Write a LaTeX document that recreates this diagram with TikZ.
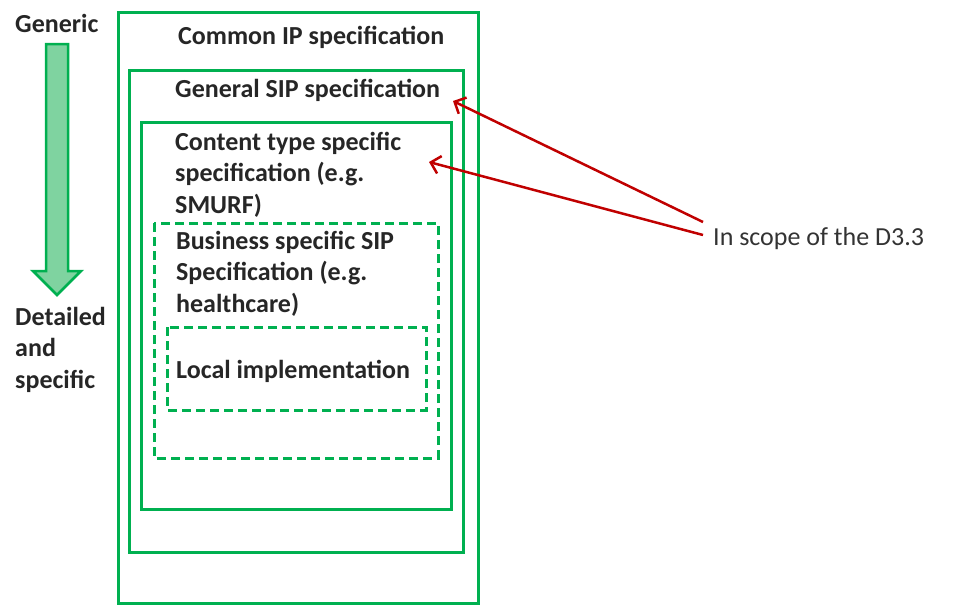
\documentclass[tikz,border=0pt]{standalone}
\usepackage{fontspec}
\setmainfont{Carlito}
\usetikzlibrary{arrows.meta}
\definecolor{grn}{HTML}{00B050}
\definecolor{lgrn}{HTML}{7FD3A0}
\definecolor{dred}{HTML}{C00000}
\tikzset{
  box/.style={draw=grn, line width=3pt},
  dbox/.style={draw=grn, line width=3pt, dash pattern=on 9pt off 5pt},
  lbl/.style={anchor=base west, inner sep=0pt, font=\fontsize{26}{31.5}\selectfont\bfseries, align=left, text=black!85},
  scopelbl/.style={anchor=base west, inner sep=0pt, font=\fontsize{26}{31.5}\selectfont, text=black!80},
  redarrow/.style={draw=dred, line width=2.5pt, -{Straight Barb[length=9pt,width=18pt,line width=2.5pt]}}
}
\begin{document}
\begin{tikzpicture}[x=1pt,y=-1pt]
\useasboundingbox (0,0) rectangle (975,606);
% boxes
\draw[box] (118,12) rectangle (478,603);
\draw[box] (129,70) rectangle (463,552);
\draw[box] (141,122) rectangle (451,509);
\draw[dbox] (154,223) rectangle (438,458);
\draw[dbox] (167,327) rectangle (426,410);
% labels (multi-line nodes anchored at the baseline of their last line)
\node[lbl] (common) at (178,44) {Common IP specification};
\node[lbl] (general) at (175,97) {General SIP specification};
\node[lbl] (content) at (175,213) {Content type specific\\specification (e.g.\\SMURF)};
\node[lbl] (business) at (176,312) {Business specific SIP\\Specification (e.g.\\healthcare)};
\node[lbl] (local) at (176,378) {Local implementation};
\node[lbl] (generic) at (15,32) {Generic};
\node[lbl] (detailed) at (15,388) {Detailed\\and\\specific};
\node[scopelbl] (scope) at (713,245) {In scope of the D3.3};
% generic -> detailed arrow
\draw[draw=grn, fill=lgrn, line width=2.5pt, line join=miter]
  (46,44) -- (68,44) -- (68,271) -- (81,271) -- (57,295) -- (33,271) -- (46,271) -- cycle;
% red arrows
\coordinate (t1) at (453,101);
\coordinate (t2) at (429,162);
\draw[redarrow] ([shift={(-10,-23)}]scope.base west) -- (t1);
\draw[redarrow] ([shift={(-10,-10)}]scope.base west) -- (t2);
\end{tikzpicture}
\end{document}
